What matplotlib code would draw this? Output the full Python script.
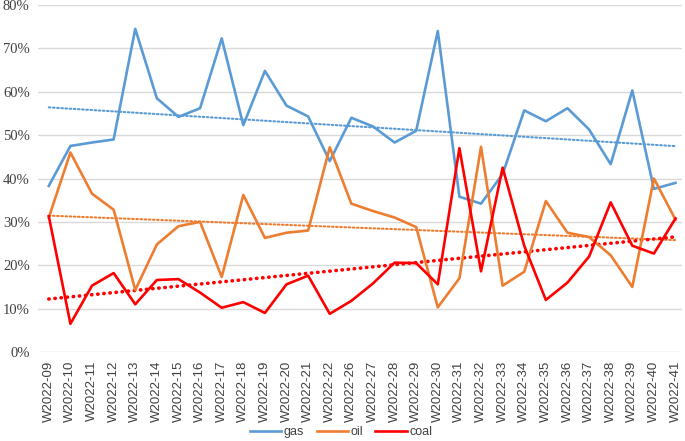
import numpy as np
import matplotlib
matplotlib.use("Agg")
import matplotlib.pyplot as plt
from matplotlib.ticker import PercentFormatter

# weekly shares (%)
weeks = ["W2022-09", "W2022-10", "W2022-11", "W2022-12", "W2022-13", "W2022-14",
         "W2022-15", "W2022-16", "W2022-17", "W2022-18", "W2022-19", "W2022-20",
         "W2022-21", "W2022-22", "W2022-26", "W2022-27", "W2022-28", "W2022-29",
         "W2022-30", "W2022-31", "W2022-32", "W2022-33", "W2022-34", "W2022-35",
         "W2022-36", "W2022-37", "W2022-38", "W2022-39", "W2022-40", "W2022-41"]
gas = [38.3, 47.5, 48.3, 49.0, 74.5, 58.5, 54.2, 56.2, 72.3, 52.3, 64.8, 56.8,
       54.3, 44.0, 54.0, 52.0, 48.3, 51.0, 74.0, 35.8, 34.2, 41.0, 55.7, 53.2,
       56.2, 51.3, 43.3, 60.3, 37.6, 39.0]
oil = [31.0, 46.0, 36.5, 32.8, 14.3, 24.8, 29.0, 30.0, 17.3, 36.2, 26.3, 27.5,
       28.0, 47.2, 34.2, 32.5, 31.0, 28.8, 10.3, 17.0, 47.3, 15.3, 18.5, 34.8,
       27.5, 26.5, 22.3, 15.0, 40.0, 30.5]
coal = [31.3, 6.5, 15.3, 18.2, 11.0, 16.6, 16.8, 13.7, 10.2, 11.5, 9.0, 15.6,
        17.6, 8.8, 11.8, 15.8, 20.6, 20.5, 15.6, 47.0, 18.6, 42.5, 24.5, 12.0,
        16.0, 22.0, 34.5, 24.5, 22.7, 30.8]

c_gas = "#5B9BD5"
c_oil = "#ED7D31"
c_coal = "#FF0000"

fig = plt.figure(figsize=(6.85, 4.41), dpi=100)
ax = fig.add_axes([38 / 685, 89 / 441, (682 - 38) / 685, (352 - 5) / 441])

x = np.arange(len(weeks))

# series
ax.plot(x, gas, color=c_gas, lw=1.9, label="gas", zorder=3)
ax.plot(x, oil, color=c_oil, lw=1.9, label="oil", zorder=3)
ax.plot(x, coal, color=c_coal, lw=1.9, label="coal", zorder=4)

# linear trend lines
for ys, col, lw in [(gas, c_gas, 1.5), (oil, c_oil, 1.5), (coal, c_coal, 2.6)]:
    k, b = np.polyfit(x, ys, 1)
    ax.plot(x, k * x + b, color=col, lw=lw, ls=(0, (0.1, 1.6)) if lw > 2 else (0, (0.8, 1.2)),
            dash_capstyle="round", zorder=2)

ax.set_xlim(-0.5, 29.3)
ax.set_ylim(0, 80)
ax.set_yticks(range(0, 81, 10))
ax.yaxis.set_major_formatter(PercentFormatter(decimals=0))
ax.set_xticks(x)
ax.set_xticklabels(weeks, rotation=90, family="Liberation Sans", fontsize=9.5, color="#404040")
for lab in ax.get_yticklabels():
    lab.set_family("Liberation Serif")
    lab.set_fontsize(10.5)
    lab.set_color("#404040")

ax.grid(axis="y", color="#D9D9D9", lw=1)
ax.set_axisbelow(True)
for s in ax.spines.values():
    s.set_visible(False)
ax.tick_params(length=0, pad=6)

ax.legend(loc="center", bbox_to_anchor=(341 / 685, 9 / 441), bbox_transform=fig.transFigure,
          ncol=3, frameon=False, handlelength=2.5, columnspacing=1.0, handletextpad=0.2,
          borderpad=0, prop={"family": "Liberation Sans", "size": 9}, labelcolor="#404040")

fig.savefig("out.png", dpi=100)
